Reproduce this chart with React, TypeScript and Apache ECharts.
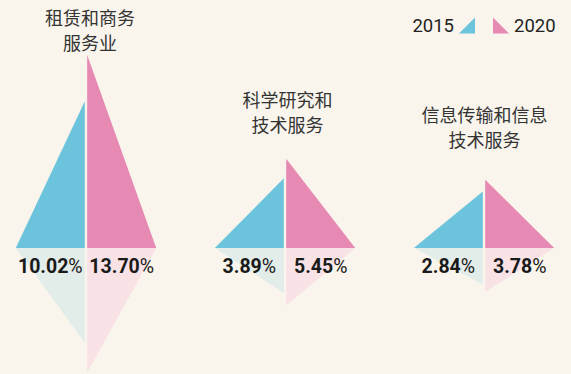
import React, { useEffect, useRef } from "react";
import * as echarts from "echarts";

const categories = ["租赁和商务\n服务业", "科学研究和\n技术服务", "信息传输和信息\n技术服务"];
const values2015 = [10.02, 3.89, 2.84];
const values2020 = [13.7, 5.45, 3.78];
const seriesNames = ["2015", "2020"];

const Y_MIN = -1.66;
const Y_MAX = 14;
const BLUE = "#6cc4dc";
const PINK = "#e68ab4";
const BLUE_REF = "#e2ece8";
const PINK_REF = "#f9e2e6";
const CN_FONT = '"Noto Sans CJK SC", sans-serif';
const NUM_FONT = "Roboto, sans-serif";

const titlePos = [
  { x: 90, y: 4.5 },
  { x: 287.5, y: 86 },
  { x: 484.5, y: 101.5 },
];

function makeRender(side: number, color: string, refColor: string) {
  return (params: any, api: any) => {
    const idx = api.value(0);
    const v = api.value(1);
    const cx = api.coord([idx, 0])[0];
    const top = api.coord([idx, v])[1];
    const base = api.coord([idx, Y_MIN])[1];
    const h = base - top;
    const inner = cx + side * 1.2;
    const outer = inner + side * 69;
    return {
      type: "group",
      children: [
        {
          type: "polygon",
          shape: { points: [[outer, base], [inner, base], [inner, base + 0.645 * h]] },
          style: { fill: refColor },
        },
        {
          type: "polygon",
          shape: { points: [[outer, base], [inner, base], [inner, top]] },
          style: { fill: color },
        },
        {
          type: "text",
          x: (inner + outer) / 2,
          y: base + 18.5,
          style: {
            text: `{n|${v.toFixed(2)}}{p|%}`,
            align: "center",
            verticalAlign: "middle",
            rich: {
              n: { fontSize: 19.5, fontWeight: "bold", fontFamily: NUM_FONT, fill: "#1a1a1a" },
              p: { fontSize: 19.5, fontWeight: "normal", fontFamily: NUM_FONT, fill: "#1a1a1a" },
            },
          },
        },
      ],
    };
  };
}

export default function App() {
  const ref = useRef<HTMLDivElement>(null);
  useEffect(() => {
    if (!ref.current) return;
    const chart = echarts.init(ref.current, undefined, { renderer: "svg" });
    const idxs = categories.map((_, i) => i);
    chart.setOption({
      animation: false,
      backgroundColor: "#f9f5ec",
      grid: { left: 86, right: 87, top: 51.3, bottom: 126 },
      xAxis: { type: "category", data: idxs.map(String), boundaryGap: false, show: false },
      yAxis: { type: "value", min: Y_MIN, max: Y_MAX, show: false },
      legend: [
        {
          data: [seriesNames[0]],
          right: 91,
          top: 11,
          align: "right",
          itemWidth: 16,
          itemHeight: 16.5,
          icon: "path://M0,16L16,16L16,0Z",
          textStyle: { fontSize: 18.5, fontFamily: NUM_FONT, color: "#222" },
        },
        {
          data: [seriesNames[1]],
          left: 488,
          top: 11,
          align: "left",
          itemWidth: 16,
          itemHeight: 16.5,
          icon: "path://M0,0L0,16L16,16Z",
          textStyle: { fontSize: 18.5, fontFamily: NUM_FONT, color: "#222" },
        },
      ],
      graphic: categories.map((c, i) => ({
        type: "text",
        x: titlePos[i].x,
        y: titlePos[i].y,
        style: {
          text: c,
          align: "center",
          verticalAlign: "top",
          fontSize: 18,
          lineHeight: 25,
          fontFamily: CN_FONT,
          fill: "#333",
        },
      })),
      series: [
        {
          name: seriesNames[0],
          type: "custom",
          clip: false,
          itemStyle: { color: BLUE },
          encode: { x: 0, y: 1 },
          data: values2015.map((v, i) => [i, v]),
          renderItem: makeRender(-1, BLUE, BLUE_REF),
        },
        {
          name: seriesNames[1],
          type: "custom",
          clip: false,
          itemStyle: { color: PINK },
          encode: { x: 0, y: 1 },
          data: values2020.map((v, i) => [i, v]),
          renderItem: makeRender(1, PINK, PINK_REF),
        },
      ],
    });
    return () => chart.dispose();
  }, []);
  return (
    <div
      ref={ref}
      style={{ position: "absolute", left: 0, top: 0, width: 571, height: 374 }}
    />
  );
}
